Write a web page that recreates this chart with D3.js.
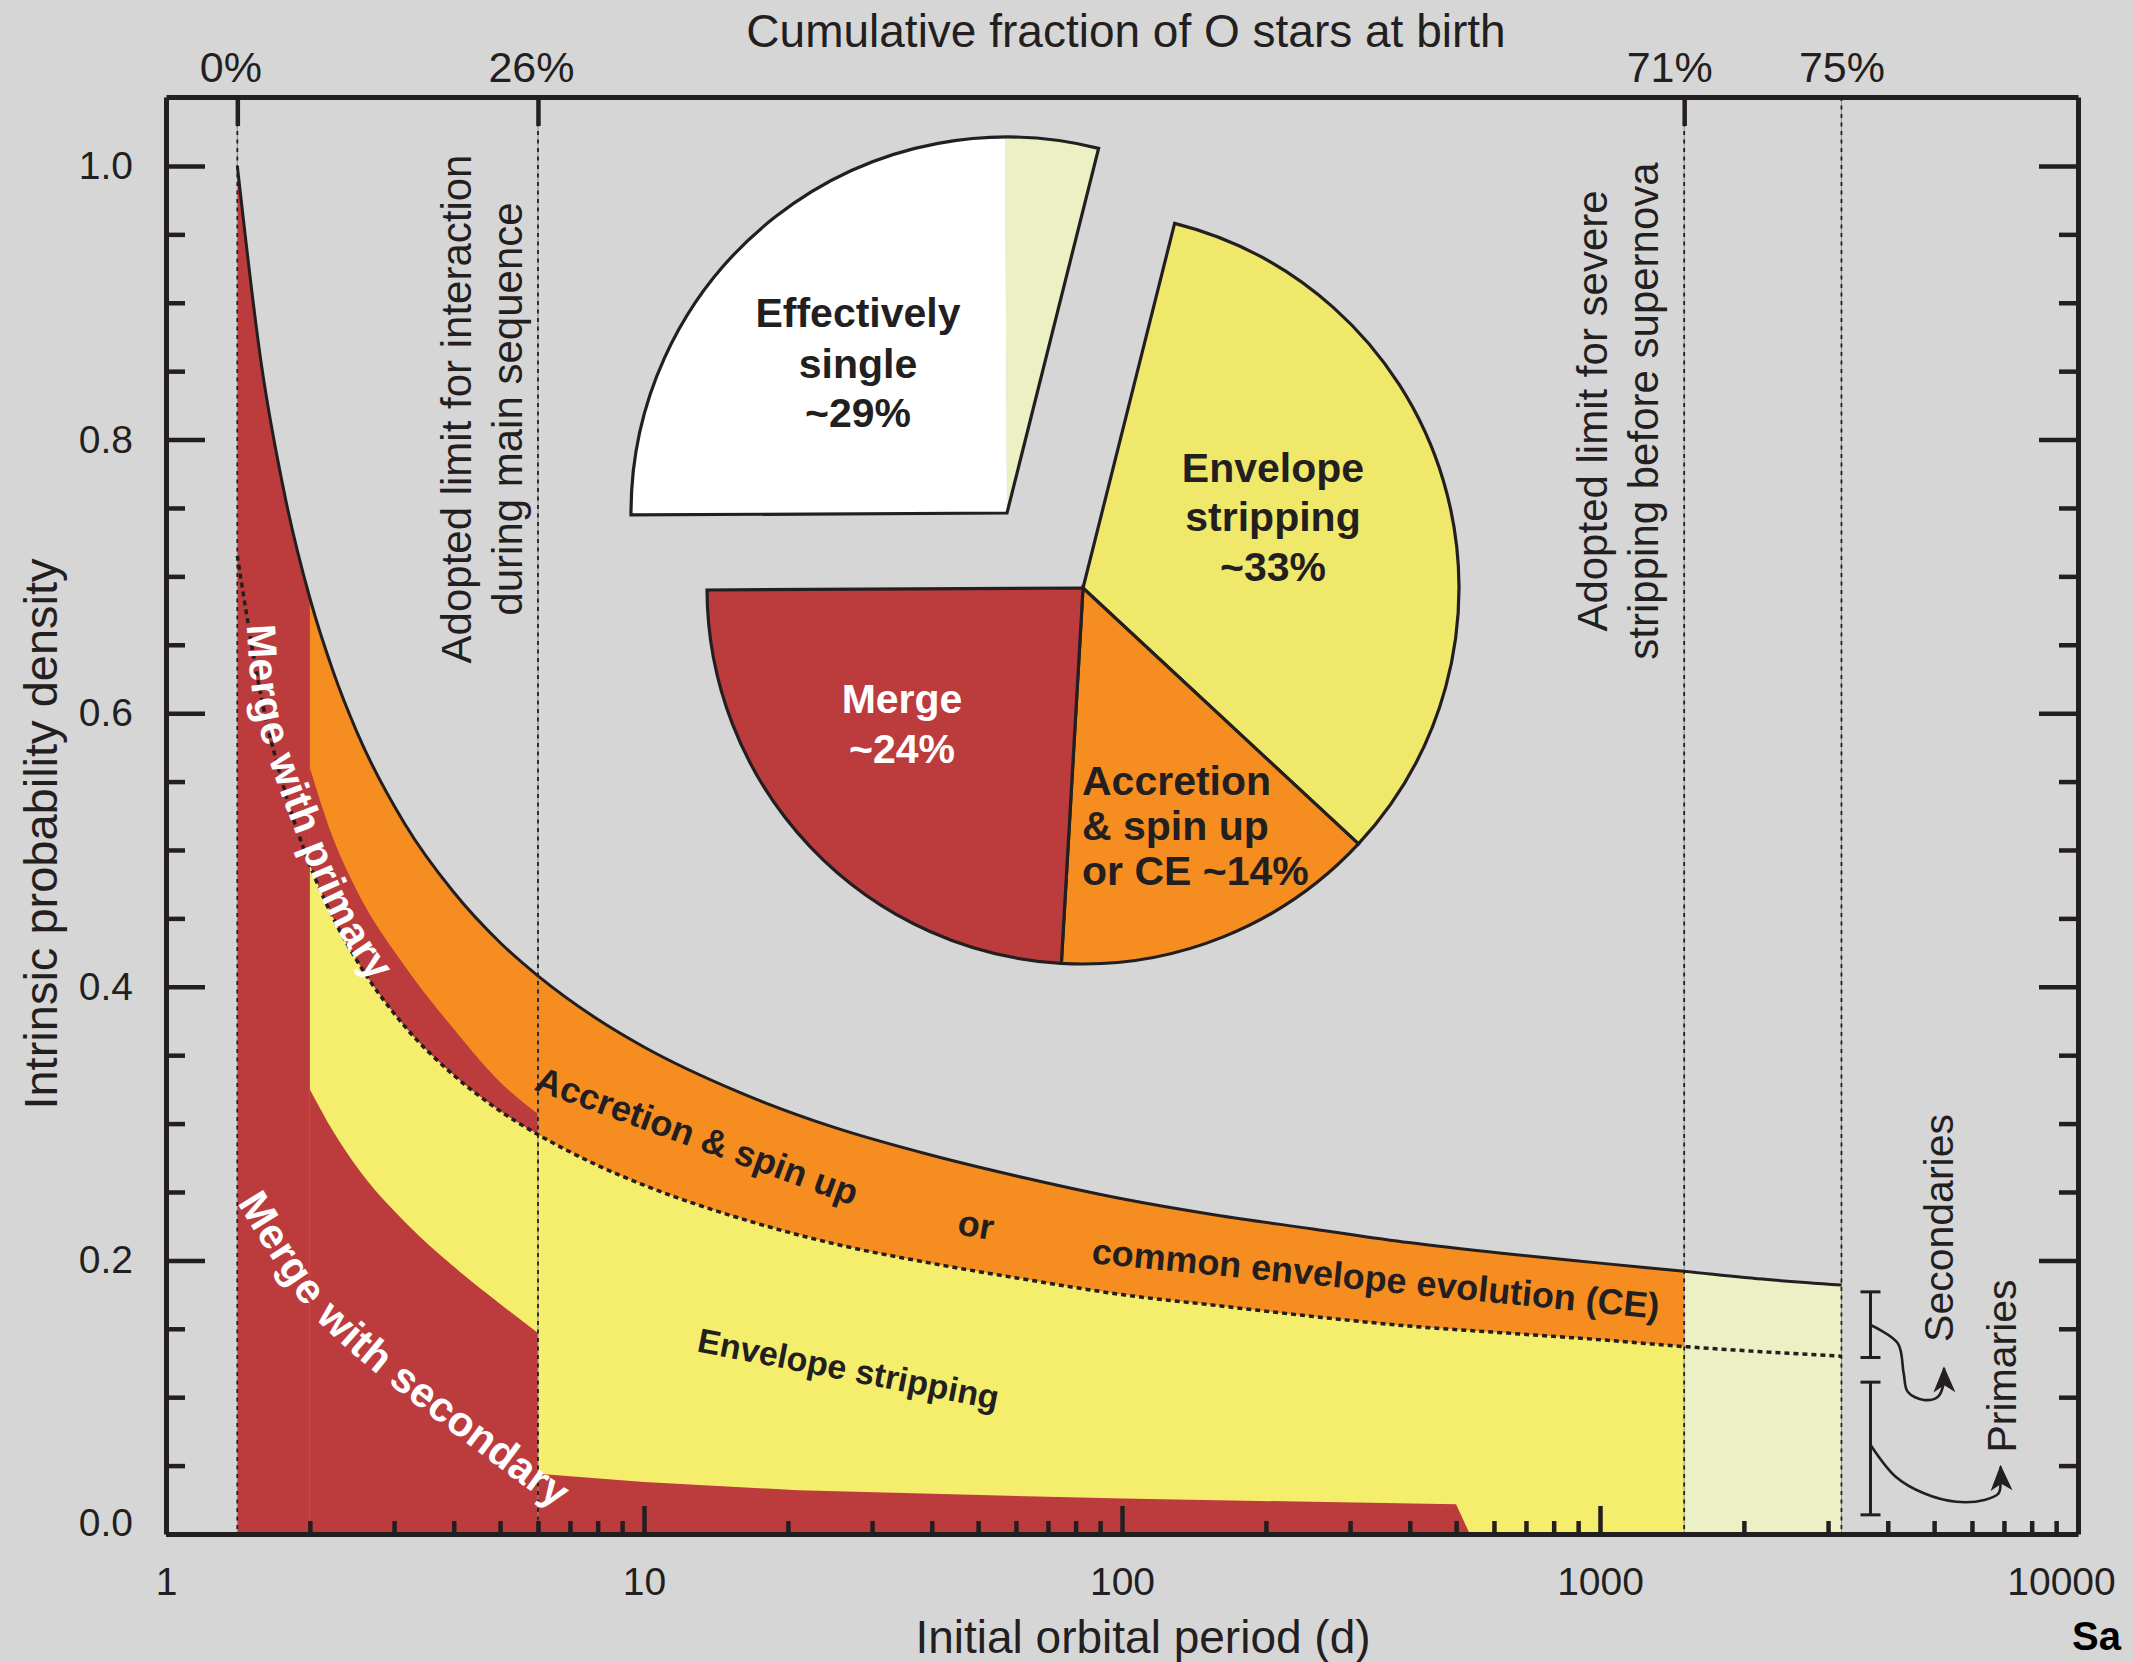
<!DOCTYPE html>
<html><head><meta charset="utf-8">
<script src="https://cdn.jsdelivr.net/npm/d3@7/dist/d3.min.js"></script>
<style>
html,body{margin:0;padding:0;background:#d6d6d6;overflow:hidden;}
svg{display:block;}
text{font-family:"Liberation Sans",Arial,Helvetica,sans-serif;}
</style></head><body>
<svg id="chart" width="2133" height="1662"></svg>
<script>
// ---------------- data ----------------
const periods        = [1.41, 1.58, 1.78, 2.0, 2.24, 2.51, 3.16, 3.98, 5.01, 6.0, 7.94, 10, 15.8, 25.1, 39.8, 63.1, 100, 158, 251, 398, 631, 1000, 1500, 2240, 3200];
const totalDensity   = [1.000, 0.857, 0.756, 0.684, 0.630, 0.586, 0.519, 0.470, 0.432, 0.408, 0.377, 0.356, 0.323, 0.297, 0.277, 0.260, 0.245, 0.233, 0.223, 0.213, 0.205, 0.198, 0.192, 0.186, 0.182];
const primaryDensity = [0.715, 0.613, 0.541, 0.489, 0.450, 0.419, 0.371, 0.336, 0.309, 0.292, 0.270, 0.255, 0.231, 0.212, 0.198, 0.186, 0.175, 0.167, 0.159, 0.152, 0.147, 0.142, 0.137, 0.133, 0.130];

const mergePrimaryPeriods = [2.0, 2.24, 2.51, 3.16, 3.98, 5.01, 6.0];
const mergePrimaryTop     = [0.560, 0.508, 0.470, 0.415, 0.370, 0.330, 0.307];

const mergeSecondaryPeriods = [2.0, 2.24, 2.51, 3.16, 3.98, 5.01, 6.0];
const mergeSecondaryTop     = [0.325, 0.294, 0.268, 0.228, 0.196, 0.168, 0.147];

const wideMergePeriods = [6.0, 10, 21, 44, 100, 250, 500, 534];
const wideMergeTop     = [0.044, 0.038, 0.032, 0.029, 0.026, 0.0235, 0.0217, 0.0];

const limitPeriods = [1.41, 6, 1500, 3200];
const limitLabels  = ["0%", "26%", "71%", "75%"];
const limitHasTick = [true, true, true, false];
const mergeLimitPeriod = 2;

const xMajorTicks = [1, 10, 100, 1000, 10000];
const yMajorTicks = [0, 0.2, 0.4, 0.6, 0.8, 1.0];

const pieCategories = ["Envelope stripping", "Accretion & spin up or CE", "Merge", "Effectively single", "Wide (stripping after SN)"];
const pieValues     = [33, 14, 24, 25, 4];

const bracketPeriod    = 3680;
const secondariesRange = [0.177, 0.129];
const primariesRange   = [0.111, 0.014];
const secondariesArrow = [[3682,0.1528],[4197,0.1394],[4318,0.1175],[4402,0.104],[4760,0.098],[5094,0.1004],[5216,0.1077],[5244,0.1211]];
const primariesArrow   = [[3682,0.0651],[4155,0.0419],[4760,0.0298],[5563,0.0236],[6374,0.0249],[6823,0.0298],[6889,0.0395],[6889,0.0492]];

const mergePrimaryLabelPath   = [[1.58,0.665],[1.64,0.605],[1.93,0.528],[2.43,0.446],[3.1,0.393],[3.9,0.35]];
const mergeSecondaryLabelPath = [[1.499,0.2478],[2.06,0.174],[2.546,0.1418],[4.763,0.0673],[7.42,0.0197],[10.3,-0.0044]];

// ---------------- layout ----------------
const W = 2133, H = 1662;
const FR = {left: 166, right: 2078, top: 97, bottom: 1534};
const INK = '#231f20';
const COL = {bg:'#d6d6d6', red:'#bc3c3e', orange:'#f68d20', yellow:'#f5ed6c', wide:'#ecf0c5', pieYellow:'#f0e86b', white:'#ffffff'};
const FONT = '"Liberation Sans", Arial, Helvetica, sans-serif';

const x = d3.scaleLog().domain([1, 10000]).range([FR.left, FR.right]);
const y = d3.scaleLinear().domain([0, 1.0504]).range([FR.bottom, FR.top]);

const svg = d3.select('#chart');
svg.append('rect').attr('width', W).attr('height', H).attr('fill', COL.bg);
const defs = svg.append('defs');
function clipX(id, p0, p1){
  defs.append('clipPath').attr('id', id).append('rect')
    .attr('x', x(p0)).attr('width', x(p1) - x(p0)).attr('y', 0).attr('height', H);
  return `url(#${id})`;
}

const rows = periods.map((p,i)=>({p, t: totalDensity[i], d: primaryDensity[i]}));
const pMin = periods[0], pSN = limitPeriods[2];
const area = (lo, hi, curve = d3.curveMonotoneX) =>
  d3.area().x(r => x(r.p)).y0(r => y(lo(r))).y1(r => y(hi(r))).curve(curve);

// ---------------- filled regions ----------------
const fills = svg.append('g');
fills.append('path').datum(rows).attr('d', area(() => 0, r => r.t)).attr('fill', COL.wide);
fills.append('path').datum(rows).attr('d', area(() => 0, r => r.t)).attr('fill', COL.orange)
  .attr('clip-path', clipX('cOr', pMin, pSN));
const mpRows = mergePrimaryPeriods.map((p,i)=>({p, t: mergePrimaryTop[i]}));
fills.append('path').datum(mpRows).attr('d', area(() => 0, r => r.t)).attr('fill', COL.red);
fills.append('path').datum(rows).attr('d', area(() => 0, r => r.d)).attr('fill', COL.yellow)
  .attr('clip-path', clipX('cYe', pMin, pSN));
fills.append('path').datum(rows).attr('d', area(() => 0, r => r.t)).attr('fill', COL.red)
  .attr('clip-path', clipX('cRe', pMin, mergeLimitPeriod));
const msRows = mergeSecondaryPeriods.map((p,i)=>({p, t: mergeSecondaryTop[i]}));
fills.append('path').datum(msRows).attr('d', area(() => 0, r => r.t)).attr('fill', COL.red);
const wmRows = wideMergePeriods.map((p,i)=>({p, t: wideMergeTop[i]}));
fills.append('path').datum(wmRows).attr('d', area(() => 0, r => r.t, d3.curveLinear)).attr('fill', COL.red);

// ---------------- vertical limit lines ----------------
const vl = svg.append('g');
limitPeriods.forEach(p => {
  vl.append('line').attr('x1', x(p)).attr('x2', x(p)).attr('y1', FR.top).attr('y2', FR.bottom)
    .attr('stroke', '#8f8f8f').attr('stroke-width', 1);
  vl.append('line').attr('x1', x(p)).attr('x2', x(p)).attr('y1', FR.top).attr('y2', FR.bottom)
    .attr('stroke', INK).attr('stroke-width', 1.8).attr('stroke-dasharray', '4,4.5');
});

// ---------------- curves ----------------
const dashedLine = d3.line().x(r => x(r.p)).y(r => y(r.d)).curve(d3.curveMonotoneX);
const topLine    = d3.line().x(r => x(r.p)).y(r => y(r.t)).curve(d3.curveMonotoneX);
svg.append('path').datum(rows).attr('d', dashedLine).attr('fill', 'none')
  .attr('stroke', INK).attr('stroke-width', 3.5).attr('stroke-dasharray', '5,4');
svg.append('path').datum(rows).attr('d', topLine).attr('fill', 'none')
  .attr('stroke', INK).attr('stroke-width', 3);

// ---------------- pie inset ----------------
const pieG = svg.append('g').attr('transform', 'translate(1083,588)');
const a0 = 14.1 * Math.PI / 180;
const slices = d3.pie().sort(null).startAngle(a0).endAngle(a0 + 2 * Math.PI)(pieValues);
const R = 376;
const arc = d3.arc().innerRadius(0).outerRadius(R);
const pieFill = [COL.pieYellow, COL.orange, COL.red, COL.white, COL.wide];
slices.slice(0, 3).forEach((s, i) => pieG.append('path').attr('d', arc(s)).attr('fill', pieFill[i])
  .attr('stroke', INK).attr('stroke-width', 3.2).attr('stroke-linejoin', 'miter'));
const ex = pieG.append('g').attr('transform', 'translate(-76,-75)');
slices.slice(3).forEach((s, i) => ex.append('path').attr('d', arc(s)).attr('fill', pieFill[3 + i]));
ex.append('path').attr('d', arc({startAngle: slices[3].startAngle, endAngle: slices[4].endAngle}))
  .attr('fill', 'none').attr('stroke', INK).attr('stroke-width', 3.2).attr('stroke-linejoin', 'miter');

const pieText = [
  {lines: ["Effectively", "single", "~29%"], x: -225, ys: [-261, -210, -161], anchor: 'middle', fill: INK},
  {lines: ["Envelope", "stripping", "~33%"], x: 190, ys: [-106, -57, -7], anchor: 'middle', fill: INK},
  {lines: ["Merge", "~24%"], x: -181, ys: [125, 175], anchor: 'middle', fill: '#ffffff'},
  {lines: ["Accretion", "& spin up", "or CE ~14%"], x: -1, ys: [207, 252, 297], anchor: 'start', fill: INK}
];
pieText.forEach(t => t.lines.forEach((ln, i) => pieG.append('text').attr('x', t.x).attr('y', t.ys[i])
  .attr('text-anchor', t.anchor).attr('font-size', 41).attr('font-weight', 'bold').attr('fill', t.fill).text(ln)));

// ---------------- in-plot labels ----------------
function rotLabel(txt, p, v, angle, size, anchor, fill){
  svg.append('text').attr('transform', `translate(${x(p)},${y(v)}) rotate(${angle})`)
    .attr('text-anchor', anchor).attr('font-size', size).attr('font-weight', 'bold')
    .attr('fill', fill).text(txt);
}
rotLabel('Accretion & spin up', 5.86, 0.325, 20, 36, 'start', INK);
rotLabel('or', 49.0, 0.217, 10, 36, 'middle', INK);
rotLabel('common envelope evolution (CE)', 86.1, 0.198, 5.6, 36, 'start', INK);
rotLabel('Envelope stripping', 12.85, 0.1335, 11, 34, 'start', INK);

const lp = d3.line().x(d => x(d[0])).y(d => y(d[1])).curve(d3.curveCatmullRom);
defs.append('path').attr('id', 'pathMP').attr('d', lp(mergePrimaryLabelPath));
defs.append('path').attr('id', 'pathMS').attr('d', lp(mergeSecondaryLabelPath));
[['pathMP', 'Merge with primary', 41], ['pathMS', 'Merge with secondary', 42]].forEach(([id, txt, fs]) => {
  svg.append('text').attr('font-size', fs).attr('font-weight', 'bold').attr('fill', '#ffffff')
    .attr('dominant-baseline', 'central')
    .append('textPath').attr('href', '#' + id).attr('startOffset', 0).text(txt);
});

// rotated annotations next to the limit lines
function vText(lines, bx, cy, size){
  lines.forEach((ln, i) => svg.append('text')
    .attr('transform', `translate(${bx[i]},${cy}) rotate(-90)`).attr('text-anchor', 'middle')
    .attr('font-size', size).attr('fill', INK).text(ln));
}
vText(['Adopted limit for interaction', 'during main sequence'], [x(limitPeriods[1]) - 67, x(limitPeriods[1]) - 16], 409, 42);
vText(['Adopted limit for severe', 'stripping before supernova'], [x(limitPeriods[2]) - 77, x(limitPeriods[2]) - 26], 411, 42);

// ---------------- axes ----------------
function styleAxis(g, fs){
  g.attr('font-family', FONT).attr('font-size', fs).attr('color', INK);
  g.selectAll('.tick line').attr('stroke-width', 4.5);
  g.selectAll('.domain').attr('stroke-width', 5);
  g.selectAll('text').attr('fill', INK);
}
const minorX = [];
for (let k = 0; k < 4; k++) for (let m = 2; m < 10; m++) minorX.push(m * Math.pow(10, k));
const minorY = d3.range(1, 21).map(i => i * 0.05).filter(v => Math.abs(v * 5 - Math.round(v * 5)) > 1e-6);

const gB = svg.append('g').attr('transform', `translate(0,${FR.bottom})`)
  .call(d3.axisBottom(x).tickValues(xMajorTicks).tickFormat(d3.format('d')).tickSize(-28).tickSizeOuter(0).tickPadding(33));
styleAxis(gB, 39);
gB.selectAll('.tick text').filter(d => d === 10000).attr('dx', -17);
const gBm = svg.append('g').attr('transform', `translate(0,${FR.bottom})`)
  .call(d3.axisBottom(x).tickValues(minorX).tickFormat(() => '').tickSize(-13).tickSizeOuter(0));
gBm.select('.domain').remove(); styleAxis(gBm, 10);

const gL = svg.append('g').attr('transform', `translate(${FR.left},0)`)
  .call(d3.axisLeft(y).tickValues(yMajorTicks).tickFormat(d3.format('.1f')).tickSize(-39).tickSizeOuter(0).tickPadding(33));
styleAxis(gL, 39);
gL.selectAll('.tick text').filter(d => d === 0).attr('y', -11);
const gLm = svg.append('g').attr('transform', `translate(${FR.left},0)`)
  .call(d3.axisLeft(y).tickValues(minorY).tickFormat(() => '').tickSize(-19).tickSizeOuter(0));
gLm.select('.domain').remove(); styleAxis(gLm, 10);

const gR = svg.append('g').attr('transform', `translate(${FR.right},0)`)
  .call(d3.axisRight(y).tickValues(yMajorTicks).tickFormat(() => '').tickSize(-39).tickSizeOuter(0));
styleAxis(gR, 10);
const gRm = svg.append('g').attr('transform', `translate(${FR.right},0)`)
  .call(d3.axisRight(y).tickValues(minorY).tickFormat(() => '').tickSize(-19).tickSizeOuter(0));
gRm.select('.domain').remove(); styleAxis(gRm, 10);

const gT = svg.append('g').attr('transform', `translate(0,${FR.top})`)
  .call(d3.axisTop(x).tickValues(limitPeriods).tickFormat((d, i) => limitLabels[i]).tickSize(-29).tickSizeOuter(0).tickPadding(15));
styleAxis(gT, 43);
gT.selectAll('.tick').filter((d, i) => !limitHasTick[i]).select('line').remove();
gT.selectAll('.tick text').attr('dx', (d, i) => [-7, -7, -15, 0][i]);

// axis titles
svg.append('text').attr('x', 1126).attr('y', 47).attr('text-anchor', 'middle').attr('font-size', 46)
  .attr('fill', INK).text('Cumulative fraction of O stars at birth');
svg.append('text').attr('x', 1143).attr('y', 1653).attr('text-anchor', 'middle').attr('font-size', 46)
  .attr('fill', INK).text('Initial orbital period (d)');
svg.append('text').attr('transform', 'translate(57,834) rotate(-90)').attr('text-anchor', 'middle')
  .attr('font-size', 47).attr('fill', INK).text('Intrinsic probability density');

// ---------------- brackets & arrows ----------------
defs.append('marker').attr('id', 'arrowHead').attr('viewBox', '0 -12 26 24').attr('refX', 24).attr('refY', 0)
  .attr('markerWidth', 26).attr('markerHeight', 24).attr('markerUnits', 'userSpaceOnUse').attr('orient', 'auto')
  .append('path').attr('d', 'M0,-11L26,0L0,11L7,0Z').attr('fill', INK);
const bg = svg.append('g').attr('stroke', INK).attr('stroke-width', 3).attr('fill', 'none');
[secondariesRange, primariesRange].forEach(rg => {
  const bx = x(bracketPeriod);
  bg.append('line').attr('x1', bx).attr('x2', bx).attr('y1', y(rg[0])).attr('y2', y(rg[1]));
  rg.forEach(v => bg.append('line').attr('x1', bx - 10).attr('x2', bx + 10).attr('y1', y(v)).attr('y2', y(v)));
});
[secondariesArrow, primariesArrow].forEach(pts => bg.append('path').attr('d', lp(pts))
  .attr('stroke-width', 2.6).attr('marker-end', 'url(#arrowHead)'));
svg.append('text').attr('transform', 'translate(1953,1228) rotate(-90)').attr('text-anchor', 'middle')
  .attr('font-size', 41).attr('fill', INK).text('Secondaries');
svg.append('text').attr('transform', 'translate(2016,1366) rotate(-90)').attr('text-anchor', 'middle')
  .attr('font-size', 41).attr('fill', INK).text('Primaries');

// credit fragment at the bottom-right corner
svg.append('text').attr('x', 2072).attr('y', 1650).attr('font-size', 40).attr('font-weight', 'bold')
  .attr('fill', '#000').text('Sa');
</script>
</body></html>
